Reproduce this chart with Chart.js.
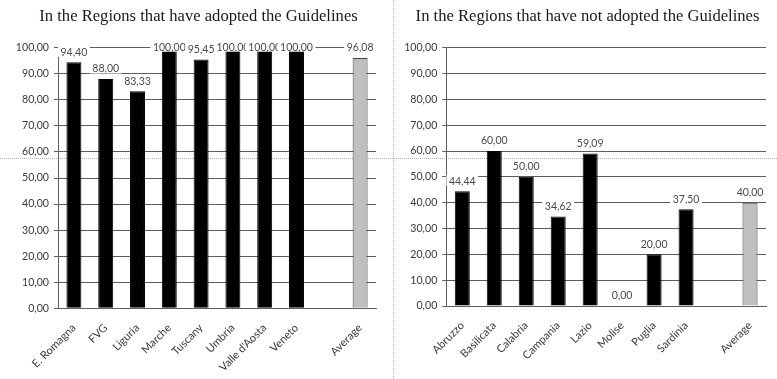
<!DOCTYPE html>
<html><head><meta charset="utf-8">
<script src="https://cdn.jsdelivr.net/npm/chart.js@4"></script>
<style>
html,body{margin:0;padding:0;background:#fff;width:777px;height:379px;overflow:hidden;position:relative}
canvas{position:absolute;top:0}
#c1{left:8px;width:381px;height:379px}
#c2{left:398px;width:379px;height:379px}
.hd{position:absolute;left:0;top:158px;width:777px;height:0;border-top:1px dotted #b0b0b0}
.vd{position:absolute;left:393px;top:0;width:0;height:379px;border-left:1px dotted #b0b0b0}
</style></head><body>
<div class="hd"></div><div class="vd"></div>
<canvas id="c1" width="381" height="379"></canvas>
<canvas id="c2" width="379" height="379"></canvas>
<script>
const adoptedTitle = 'In the Regions that have adopted the Guidelines';
const adoptedRegions = ['E. Romagna','FVG','Liguria','Marche','Tuscany','Umbria',"Valle d'Aosta",'Veneto','','Average'];
const adoptedValues = [94.40, 88.00, 83.33, 100.00, 95.45, 100.00, 100.00, 100.00, null, 96.08];

const notAdoptedTitle = 'In the Regions that have not adopted the Guidelines';
const notAdoptedRegions = ['Abruzzo','Basilicata','Calabria','Campania','Lazio','Molise','Puglia','Sardinia','','Average'];
const notAdoptedValues = [44.44, 60.00, 50.00, 34.62, 59.09, 0.00, 20.00, 37.50, null, 40.00];

const yTicks = [0,10,20,30,40,50,60,70,80,90,100];

const fmt = v => v.toFixed(2).replace('.', ',');
const TXT = '#3a3a3a';
const LINE = '#5e5e5e';

const valueLabels = {
  id: 'valueLabels',
  afterDatasetsDraw(chart) {
    const ctx = chart.ctx;
    const meta = chart.getDatasetMeta(0);
    const data = chart.data.datasets[0].data;
    ctx.save();
    ctx.font = '10.5px Lato';
    ctx.textAlign = 'center';
    ctx.textBaseline = 'middle';
    meta.data.forEach((bar, i) => {
      const v = data[i];
      if (v == null) return;
      const txt = fmt(v);
      const y = Math.max(bar.y - 10, chart.chartArea.top - 0.5);
      const x = bar.x;
      const w = ctx.measureText(txt).width + 5;
      ctx.fillStyle = '#fff';
      ctx.fillRect(x - w / 2, y - 6, w, 10.5);
      ctx.fillStyle = '#4a4a4a';
      ctx.fillText(txt, x, y);
    });
    ctx.restore();
  }
};

function makeChart(id, title, labels, values, yWidth, xHeight, rightGap) {
  const colors = labels.map(l => l === 'Average' ? '#bfbfbf' : '#000000');
  const borders = labels.map(l => l === 'Average' ? '#404040' : '#000000');
  return new Chart(document.getElementById(id), {
    type: 'bar',
    data: {
      labels: labels,
      datasets: [{
        data: values,
        backgroundColor: colors,
        borderColor: borders,
        borderWidth: 1,
        categoryPercentage: 1,
        barPercentage: 0.47
      }]
    },
    options: {
      responsive: false,
      animation: false,
      events: [],
      layout: { padding: 0 },
      plugins: {
        legend: { display: false },
        tooltip: { enabled: false },
        title: {
          display: true,
          text: title,
          color: '#1a1a1a',
          font: { family: '"Liberation Serif", "Times New Roman", serif', size: 16.6, weight: 'normal', lineHeight: 1.2 },
          padding: { top: 6.5, bottom: 21.3 }
        }
      },
      scales: {
        y: {
          min: 0, max: 100,
          afterBuildTicks(s) { s.ticks = yTicks.map(v => ({ value: v })); },
          afterFit(s) { s.width = yWidth; },
          grid: { color: LINE, lineWidth: 1, drawTicks: true, tickLength: 4, tickColor: LINE },
          border: { display: true, color: LINE, width: 1 },
          ticks: {
            padding: 5,
            color: TXT,
            font: { family: 'Lato', size: 10.6 },
            callback: v => fmt(v)
          }
        },
        gap: {
          position: 'right',
          display: true,
          grid: { display: false, drawTicks: false },
          border: { display: false },
          ticks: { display: false },
          afterFit(s) { s.width = rightGap; }
        },
        x: {
          afterFit(s) { s.height = xHeight; },
          grid: { display: false, drawTicks: true, tickLength: 4 },
          border: { display: true, color: LINE, width: 1 },
          ticks: {
            autoSkip: false,
            maxRotation: 45,
            minRotation: 45,
            padding: 9,
            color: TXT,
            font: { family: 'Lato', size: 11 }
          }
        }
      }
    },
    plugins: [valueLabels]
  });
}

makeChart('c1', adoptedTitle, adoptedRegions, adoptedValues, 50, 70.7, 13);
makeChart('c2', notAdoptedTitle, notAdoptedRegions, notAdoptedValues, 48.3, 73, 11);
</script>
</body></html>
